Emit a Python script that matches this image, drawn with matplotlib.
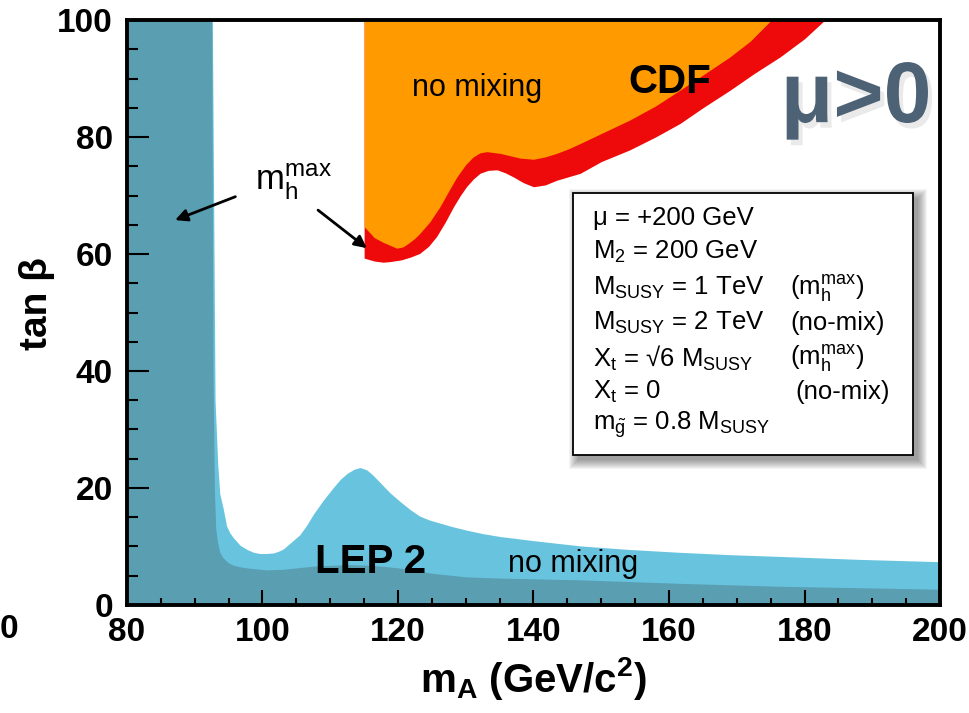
import matplotlib.pyplot as plt
import matplotlib.patheffects as pe
from matplotlib.patches import Rectangle
from matplotlib.ticker import MultipleLocator

# LEP 2 exclusion, m_h^max scenario (dark region)
lep_mhmax_x = [80, 92.5, 92.7, 92.9, 93.1, 93.4, 93.7, 94.1, 94.5, 95.0, 95.7, 96.8, 98.0,
               100.6, 103.0, 105.5, 108.0, 110.4, 113.0, 115.4, 118.0, 120.3, 125.2,
               130.1, 135.1, 146.9, 161.6, 176.4, 200]
lep_mhmax_y = [100, 100, 40, 20, 13, 10.5, 9.0, 8.2, 7.7, 7.2, 6.8, 6.5, 6.3,
               6.0, 6.1, 6.4, 6.7, 6.8, 6.9, 6.8, 6.6, 6.3, 5.4,
               4.8, 4.6, 4.3, 3.7, 3.2, 2.7]

# LEP 2 exclusion, no mixing (light region)
lep_nomix_x = [80, 92.6, 93.0, 93.4, 93.7, 94.2, 94.7, 95.2, 95.7, 96.7, 97.7, 98.7, 99.6,
               100.6, 101.6, 102.4, 103.1, 104.5, 105.5, 106.5, 107.5, 108.9, 110.4, 111.5,
               112.5, 113.5, 114.4, 115.4, 116.3, 117.3, 118.8, 120.3, 121.8, 123.2, 124.7,
               126.2, 128.0, 130.1, 132.5, 135.1, 140.0, 146.9, 154.0, 161.6, 169.0,
               176.4, 188.0, 200]
lep_nomix_y = [100, 100, 35, 24, 19, 16.5, 13.5, 12.3, 11.5, 10.2, 9.5, 9.0, 8.8,
               8.8, 8.9, 9.2, 9.6, 11.0, 12.0, 13.6, 15.5, 17.8, 20.0, 21.5,
               22.5, 23.2, 23.5, 23.1, 22.2, 21.0, 19.2, 17.7, 16.3, 15.2, 14.5,
               14.0, 13.4, 12.8, 12.2, 11.7, 11.0, 10.1, 9.5, 9.0, 8.6,
               8.3, 7.8, 7.4]

# CDF exclusion, no mixing (orange)
cdf_nomix_x = [115.0, 116.5, 117.8, 118.8, 119.8, 120.7, 121.5, 122.4, 123.2, 124.7,
               126.2, 127.5, 128.7, 130.0, 131.1, 132.1, 133.1, 135.1, 138.0, 140.0,
               141.7, 143.4, 145.2, 146.9, 150.0, 154.2, 158.0, 161.6, 165.0, 169.0,
               172.0, 175.1]
cdf_nomix_y = [64.7, 62.8, 62.0, 61.5, 61.0, 61.2, 61.8, 62.6, 63.5, 65.5,
               68.1, 70.8, 73.2, 75.3, 76.6, 77.3, 77.5, 77.2, 76.4, 76.2,
               76.6, 77.2, 78.0, 78.9, 80.6, 82.9, 85.3, 88.0, 90.6, 93.7,
               96.4, 100]

# CDF exclusion, m_h^max (red)
cdf_mhmax_x = [115.0, 116.5, 117.8, 118.8, 120.5, 121.9, 123.2, 124.5, 125.7, 127.0,
               128.2, 129.2, 130.1, 131.1, 132.1, 133.3, 134.6, 135.8, 137.0, 138.5,
               140.0, 141.7, 143.4, 146.9, 150.0, 154.2, 158.0, 161.6, 165.0, 169.0,
               172.5, 176.4, 180.0, 183.0]
cdf_mhmax_y = [59.3, 58.8, 58.6, 58.7, 59.0, 59.5, 60.1, 61.3, 63.0, 65.5,
               68.1, 70.0, 71.5, 72.8, 73.8, 74.3, 74.4, 73.9, 73.2, 72.2,
               71.5, 71.8, 72.6, 73.8, 75.8, 77.8, 80.0, 82.3, 85.0, 88.0,
               90.8, 93.7, 96.8, 100]

params_left = [r'μ = +200 GeV',
               r'M$_2$ = 200 GeV',
               r'M$_\mathrm{SUSY}$ = 1 TeV',
               r'M$_\mathrm{SUSY}$ = 2 TeV',
               r'X$_\mathrm{t}$ = √6 M$_\mathrm{SUSY}$',
               r'X$_\mathrm{t}$ = 0',
               r'm$_{\tilde{\mathrm{g}}}$ = 0.8 M$_\mathrm{SUSY}$']
params_right = [r'(m$_\mathrm{h}^\mathrm{max}$)', '(no-mix)',
                r'(m$_\mathrm{h}^\mathrm{max}$)', '(no-mix)']

plt.rcParams['font.family'] = ['Liberation Sans', 'DejaVu Sans']
plt.rcParams['mathtext.fontset'] = 'custom'
plt.rcParams['mathtext.rm'] = 'Liberation Sans'
plt.rcParams['mathtext.it'] = 'Liberation Sans:italic'
plt.rcParams['mathtext.bf'] = 'Liberation Sans:bold'

fig = plt.figure(figsize=(9.7, 7.13), dpi=100)
ax = fig.add_axes([0.1309, 0.1515, 0.8382, 0.8204])

# fills
ax.fill_between(lep_nomix_x, 0, lep_nomix_y, color='#68c4de', lw=0)
ax.fill_between(lep_mhmax_x, 0, lep_mhmax_y, color='#5a9eb2', lw=0)
ax.fill_between(cdf_mhmax_x, cdf_mhmax_y, 100, color='#ee0a0a', lw=0)
ax.fill_between(cdf_nomix_x, cdf_nomix_y, 100, color='#ff9a00', lw=0)

ax.set_xlim(80, 200)
ax.set_ylim(0, 100)
ax.xaxis.set_major_locator(MultipleLocator(20))
ax.xaxis.set_minor_locator(MultipleLocator(5))
ax.yaxis.set_major_locator(MultipleLocator(20))
ax.yaxis.set_minor_locator(MultipleLocator(5))
ax.tick_params(which='both', direction='in', top=False, right=False, width=1.5)
ax.tick_params(axis='x', which='major', length=11, pad=9, labelsize=24)
ax.tick_params(axis='x', which='minor', length=5)
ax.tick_params(axis='y', which='major', length=16, pad=10, labelsize=24)
ax.tick_params(axis='y', which='minor', length=8)
for lab in ax.get_xticklabels() + ax.get_yticklabels():
    lab.set_fontweight('bold')
for sp in ax.spines.values():
    sp.set_linewidth(2.8)
    sp.set_zorder(5)

ax.set_xlabel(r'$\mathbf{m}_\mathbf{A}$ (GeV/c$^\mathbf{2}$)', fontsize=29, fontweight='bold')
ax.xaxis.set_label_coords(0.5, -0.085)
ax.set_ylabel('tan β', fontsize=28, fontweight='bold')
ax.yaxis.set_label_coords(-0.088, 0.515)

# region labels
ax.text(131.7, 88.4, 'no mixing', fontsize=22, ha='center', va='center')
ax.text(160.1, 89.4, 'CDF', fontsize=29, fontweight='bold', ha='center', va='center')
ax.text(115.9, 7.4, 'LEP 2', fontsize=29, fontweight='bold', ha='center', va='center')
ax.text(145.8, 7.0, 'no mixing', fontsize=22, ha='center', va='center')
ax.text(187.6, 86.3, 'μ>0', fontsize=62, fontweight='bold', color='#4d6275',
        ha='center', va='center',
        path_effects=[pe.SimplePatchShadow(offset=(3, -4), shadow_rgbFace='#999999', alpha=0.2),
                      pe.Normal()])

# m_h^max annotation with two arrows
ax.text(104.5, 72.4, r'm$_\mathrm{h}^\mathrm{max}$', fontsize=25, ha='center', va='center')
arrow = dict(arrowstyle='-|>', color='black', lw=2, mutation_scale=18, shrinkA=0, shrinkB=0)
ax.annotate('', xy=(87.1, 65.8), xytext=(96.0, 69.8), arrowprops=arrow)
ax.annotate('', xy=(115.4, 61.0), xytext=(108.2, 67.5), arrowprops=arrow)

# parameter box with soft shadow (positions in axes fraction)
bx0, by0, bw, bh = 0.5486, 0.2564, 0.4182, 0.4479
px, py = 1 / 813, 1 / 585
for k in range(10):
    ax.add_patch(Rectangle((bx0 + (5 - k) * px, by0 - (5 + k) * py),
                           bw + 2 * k * px, bh + 2 * k * py,
                           transform=ax.transAxes, color='black', alpha=0.045,
                           lw=0, zorder=6))
ax.add_patch(Rectangle((bx0, by0), bw, bh, transform=ax.transAxes,
                       facecolor='white', edgecolor='black', lw=1.3, zorder=7))
line_y = [218, 252, 288, 323, 358, 392, 425]
for i, s in enumerate(params_left):
    ax.text(0.573, (605 - line_y[i]) / 585, s, transform=ax.transAxes,
            fontsize=18.5, ha='left', va='center', zorder=8)
for i, s in enumerate(params_right):
    xr = 0.8155 if i < 3 else 0.822
    ax.text(xr, (605 - line_y[i + 2]) / 585, s, transform=ax.transAxes,
            fontsize=18.5, ha='left', va='center', zorder=8)

# label remnant at the left edge of the picture
fig.text(0.0, 1 - 630 / 713, '0', fontsize=24, fontweight='bold', ha='left', va='center')

fig.savefig('out.png', dpi=100)
